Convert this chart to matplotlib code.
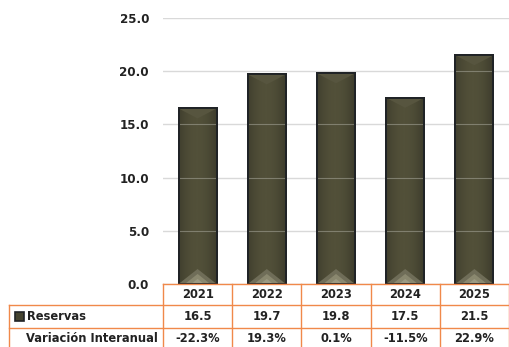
import numpy as np
import matplotlib
matplotlib.use("Agg")
import matplotlib.pyplot as plt
from matplotlib.patches import Polygon
from matplotlib.transforms import blended_transform_factory

years = ["2021", "2022", "2023", "2024", "2025"]
reservas = [16.5, 19.7, 19.8, 17.5, 21.5]
variacion = ["-22.3%", "19.3%", "0.1%", "-11.5%", "22.9%"]
yticks = [0.0, 5.0, 10.0, 15.0, 20.0, 25.0]
row_labels = ["Reservas", "Variación Interanual"]

W, H = 509, 347
fig = plt.figure(figsize=(W / 100, H / 100), dpi=100)
ax = fig.add_axes([163 / W, 1 - 284 / H, (509 - 163) / W, (284 - 18) / H])

x = np.arange(len(years))
ax.set_xlim(-0.5, len(years) - 0.5)
ax.set_ylim(0, 25)
ax.set_yticks(yticks)
ax.set_yticklabels([f"{v:.1f}" for v in yticks], fontsize=8.6, fontweight="bold", color="#222222")
ax.tick_params(axis="y", length=0, pad=10)
ax.set_xticks([])
for s in ax.spines.values():
    s.set_visible(False)
ax.grid(axis="y", color="#d9d9d9", lw=1.0, zorder=0)
ax.set_axisbelow(True)

bw = 0.55
bars = ax.bar(x, reservas, width=bw, color="#45432f", edgecolor="#202326", lw=1.4, zorder=3)

grad = np.linspace(0, 1, 64)
prof = np.clip(0.15 + 0.85 * np.sin(np.pi * (grad * 0.75 + 0.15)), 0, 1)
cmap = matplotlib.colors.LinearSegmentedColormap.from_list("g", ["#2c2c22", "#525039"])
ppu = (284 - 18) / 25.0
for b in bars:
    x0, w, h = b.get_x(), b.get_width(), b.get_height()
    im = ax.imshow(prof[None, :], extent=(x0, x0 + w, 0, h), aspect="auto",
                   cmap=cmap, vmin=0, vmax=1, zorder=3.1)
    im.set_clip_path(b)
    bev = 15 / ppu
    for k, c in enumerate(["#6f6d58", "#8a886f", "#9c9a82"]):
        f = 1 - k * 0.33
        tri = Polygon([[x0 + w / 2 - w / 2 * f, 0], [x0 + w / 2 + w / 2 * f, 0],
                       [x0 + w / 2, bev * f]], closed=True,
                      facecolor=c, edgecolor="none", zorder=3.2 + k * 0.01)
        ax.add_patch(tri)
    top = Polygon([[x0, h], [x0 + w, h], [x0 + w / 2, h - 10 / ppu]], closed=True,
                  facecolor="#57553f", edgecolor="none", zorder=3.2)
    ax.add_patch(top)
    # gridlines faintly visible over the bar
    for v in yticks[1:]:
        if v < h:
            ax.hlines(v, x0, x0 + w, color="#a8a89c", lw=0.8, alpha=0.55, zorder=3.3)
    ax.bar(b.get_x() + w / 2, h, width=w, color="none", edgecolor="#202326", lw=1.4, zorder=3.5)

# data table
orange = "#f0894a"
tr = blended_transform_factory(ax.transData, fig.transFigure)
def fy(py):
    return 1 - py / H
left_px = 9
xl = -0.5 - (163 - left_px) / ((509 - 163) / len(years))
edges = np.arange(len(years) + 1) - 0.5
lkw = dict(color=orange, lw=1.0, transform=tr, clip_on=False, zorder=5)
ax.add_line(plt.Line2D([edges[0], edges[-1]], [fy(283.5)] * 2, **lkw))
ax.add_line(plt.Line2D([xl, edges[-1]], [fy(305)] * 2, **lkw))
ax.add_line(plt.Line2D([xl, edges[-1]], [fy(328)] * 2, **lkw))
ax.add_line(plt.Line2D([xl, edges[-1]], [fy(351)] * 2, **lkw))
ax.add_line(plt.Line2D([xl, xl], [fy(305), fy(351)], **lkw))
for e in edges:
    ax.add_line(plt.Line2D([e, e], [fy(283.5), fy(351)], **lkw))

tkw = dict(fontsize=8.3, fontweight="bold", color="#222222", transform=tr,
           ha="center", va="center", clip_on=False)
for i, yr in enumerate(years):
    ax.text(x[i], fy(295), yr, **tkw)
    ax.text(x[i], fy(317), f"{reservas[i]:.1f}", **tkw)
    ax.text(x[i], fy(339), variacion[i], **tkw)

ft = fig.transFigure
fig.patches.append(matplotlib.patches.Rectangle((15 / W, fy(321)), 9 / W, 9 / H,
                   transform=ft, facecolor="#45432f", edgecolor="#202326", lw=1.2))
fig.text(27 / W, fy(317), row_labels[0], fontsize=8.3, fontweight="bold", color="#222222",
         ha="left", va="center")
fig.text(158 / W, fy(339), row_labels[1], fontsize=8.3, fontweight="bold", color="#222222",
         ha="right", va="center")

fig.savefig("out.png", dpi=100)
